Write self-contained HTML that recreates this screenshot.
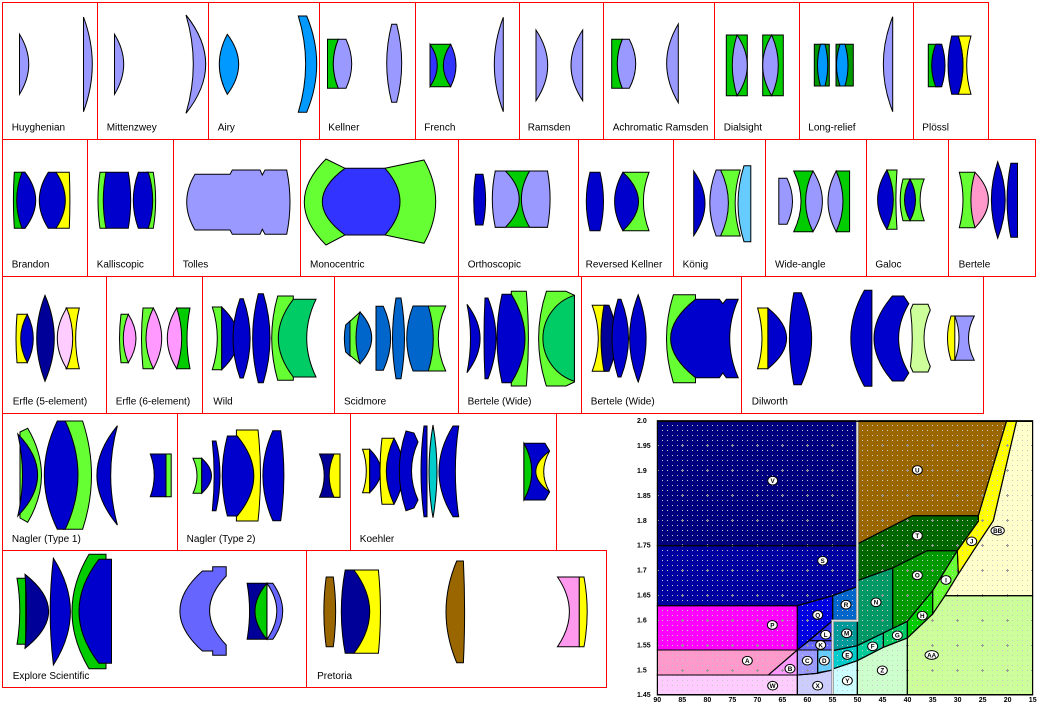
<!DOCTYPE html>
<html><head><meta charset="utf-8"><style>
html,body{margin:0;padding:0;background:#fff;width:1040px;height:712px;overflow:hidden}
svg{display:block}
.l path{stroke:#000;stroke-width:1;stroke-linejoin:miter}
.lab{font-family:"Liberation Sans",sans-serif;font-size:10px;fill:#000}
.tk{font-family:"Liberation Sans",sans-serif;font-size:7px;font-weight:bold;fill:#000}
.cl{font-family:"Liberation Sans",sans-serif;font-size:19px;font-weight:bold;fill:#000;text-anchor:middle}
</style></head><body>
<svg width="1040" height="712" viewBox="0 0 1040 712" xmlns="http://www.w3.org/2000/svg">
<rect width="1040" height="712" fill="#fff"/>
<defs>
<pattern id="dots" x="657" y="420" width="5" height="5" patternUnits="userSpaceOnUse"><rect width="1" height="1" fill="#c8c8c8"/></pattern>
<pattern id="plus" x="645" y="408" width="25" height="25" patternUnits="userSpaceOnUse"><rect x="11" y="12" width="3" height="1" fill="#999"/><rect x="12" y="11" width="1" height="3" fill="#999"/></pattern>
</defs>

<!-- cell grid -->
<g fill="none" stroke="#ff0000" stroke-width="1">
<rect x="2.5" y="2.5" width="986" height="137"/>
<path d="M97.5,2.5V139.5M208.5,2.5V139.5M319.5,2.5V139.5M415.5,2.5V139.5M519.5,2.5V139.5M603.5,2.5V139.5M714.5,2.5V139.5M799.5,2.5V139.5M913.5,2.5V139.5"/>
<rect x="2.5" y="139.5" width="1033" height="137"/>
<path d="M87.5,139.5V276.5M173.5,139.5V276.5M300.5,139.5V276.5M458.5,139.5V276.5M578.5,139.5V276.5M673.5,139.5V276.5M765.5,139.5V276.5M866.5,139.5V276.5M948.5,139.5V276.5"/>
<rect x="2.5" y="276.5" width="981" height="137"/>
<path d="M106.5,276.5V413.5M202.5,276.5V413.5M334.5,276.5V413.5M458.5,276.5V413.5M581.5,276.5V413.5M741.5,276.5V413.5"/>
<rect x="2.5" y="413.5" width="554" height="137"/>
<path d="M177.5,413.5V550.5M350.5,413.5V550.5"/>
<rect x="2.5" y="550.5" width="604" height="137"/>
<path d="M306.5,550.5V687.5"/>
</g>

<g class="l">
<!-- Row 1 -->
<path fill="#9999ff" d="M19.5,34.3 Q38,64.3 19.5,94.3Z"/>
<path fill="#9999ff" d="M83.5,17 Q101.1,64.3 83.5,111.7Z"/>
<path fill="#9999ff" d="M114.5,34.3 Q132.9,64.3 114.5,94.3Z"/>
<path fill="#9999ff" d="M186,15 Q225.4,64.2 186,113.3 Q200.6,64.2 186,15Z"/>
<path fill="#0099ff" d="M227.3,34.3 Q250,64.3 227.3,94.3 Q211.3,64.3 227.3,34.3Z"/>
<path fill="#0099ff" d="M298.3,16 L306.7,16 Q326.7,64 306.7,112.3 L298.3,112.3 Q313,64 298.3,16Z"/>
<path fill="#00cc00" d="M327.5,39.3 L338.3,39.3 Q328.3,63.8 338.3,88.3 L327.5,88.3Z"/>
<path fill="#9999ff" d="M338.3,39.3 L346,39.3 Q357.4,63.8 346,88.3 L338.3,88.3 Q328.3,63.8 338.3,39.3Z"/>
<path fill="#9999ff" d="M391.7,24.3 L396.7,24.3 Q406.7,63.3 396.7,102.3 L391.7,102.3 Q381.7,63.3 391.7,24.3Z"/>
<path fill="#00cc00" d="M430,44.3 L450.7,44.3 L450.7,86.7 L430,86.7Z"/>
<path fill="#3333ff" d="M430,44.3 Q444.6,65.5 430,86.7Z"/>
<path fill="#3333ff" d="M450.7,44.3 Q461.3,65.5 450.7,86.7 Q436,65.5 450.7,44.3Z"/>
<path fill="#9999ff" d="M503.3,17.3 L503.3,111.7 Q485.3,64.5 503.3,17.3Z"/>
<path fill="#9999ff" d="M536,30 Q559.4,65.3 536,100.7Z"/>
<path fill="#9999ff" d="M582.7,30 L582.7,100.7 Q559.3,65.3 582.7,30Z"/>
<path fill="#00cc00" d="M611.7,39.3 L622.3,39.3 Q612.3,63.8 622.3,88.3 L611.7,88.3Z"/>
<path fill="#9999ff" d="M622.3,39.3 L629.3,39.3 Q642.1,63.8 629.3,88.3 L622.3,88.3 Q612.3,63.8 622.3,39.3Z"/>
<path fill="#9999ff" d="M678.3,24 L678.3,102.7 Q655,63.3 678.3,24Z"/>
<path fill="#00cc00" d="M726.3,35 L747.3,35 L747.3,95.7 L726.3,95.7Z"/>
<path fill="#9999ff" d="M737,35 Q727.6,65.3 737,95.7 Q757.6,65.3 737,35Z"/>
<path fill="#00cc00" d="M762.7,35 L783.3,35 L783.3,95.7 L762.7,95.7Z"/>
<path fill="#9999ff" d="M771.7,35 Q753.7,65.3 771.7,95.7 Q784.9,65.3 771.7,35Z"/>
<path fill="#009900" d="M814.3,44.3 L829.3,44.3 L829.3,86 L814.3,86Z"/>
<path fill="#0099ff" d="M820.5,44.3 L825,44.3 Q830.5,65.2 825,86 L820.5,86 Q814.5,65.2 820.5,44.3Z"/>
<path fill="#009900" d="M836,44.3 L853.3,44.3 L853.3,86 L836,86Z"/>
<path fill="#0099ff" d="M840,44.3 L845,44.3 Q851,65.2 845,86 L840,86 Q833,65.2 840,44.3Z"/>
<path fill="#9999ff" d="M892.7,16.7 L892.7,111.7 Q874,64.2 892.7,16.7Z"/>
<path fill="#00cc00" d="M928.3,44.3 L940,44.3 L940,86.7 L928.3,86.7Z"/>
<path fill="#0000cc" d="M935.7,44.3 L941.7,44.3 Q948.3,65.5 941.7,86.7 L935.7,86.7 Q927.7,65.5 935.7,44.3Z"/>
<path fill="#ffff00" d="M958.3,36 L971,36 Q962.4,65.2 971,94.3 L958.3,94.3 Q967.7,65.2 958.3,36Z"/>
<path fill="#0000cc" d="M951.7,36 L958.3,36 Q967.7,65.2 958.3,94.3 L951.7,94.3 Q944.4,65.2 951.7,36Z"/>

<!-- Row 2 -->
<path fill="#00cc00" d="M14.3,172.3 L25,172.3 L25,228.3 L14.3,228.3 Q12.5,200.3 14.3,172.3Z"/>
<path fill="#0000cc" d="M22,172.3 L25,172.3 Q46.4,200.3 25,228.3 L22,228.3 Q11.4,200.3 22,172.3Z"/>
<path fill="#ffff00" d="M56,172.3 L69.3,172.3 Q70.5,200.3 69.3,228.3 L56,228.3Z"/>
<path fill="#0000cc" d="M48.3,172.3 L56,172.3 Q74.6,200.3 56,228.3 L48.3,228.3 Q30.3,200.3 48.3,172.3Z"/>
<path fill="#66ff33" d="M100,172.3 L106,172.3 L106,228.3 L100,228.3 Q96,200.3 100,172.3Z"/>
<path fill="#0000cc" d="M106,172.3 L128.3,172.3 Q133.1,200.3 128.3,228.3 L106,228.3 Q100.6,200.3 106,172.3Z"/>
<path fill="#66ff33" d="M146.7,172.3 L153.3,172.3 Q158,200.3 153.3,228.3 L146.7,228.3Z"/>
<path fill="#0000cc" d="M138.3,172.3 L148.3,172.3 Q157.1,200.3 148.3,228.3 L138.3,228.3 Q128.3,200.3 138.3,172.3Z"/>
<path fill="#9999ff" d="M195,174.3 L230,174.3 L232.3,170 L260,170 L262.3,175 L265,170 L286.7,170 Q293.3,202 286.7,234.3 L265,234.3 L262.3,229.3 L260,234.3 L232.3,234.3 L230,230 L195,230 Q178.4,202 195,174.3Z"/>
<path fill="#66ff33" d="M326,159 L345,168.3 L345,235 L326,245 Q282.6,202 326,159Z"/>
<path fill="#66ff33" d="M385,168.3 L424,160 Q447.4,201.7 424,243.3 L385,235Z"/>
<path fill="#3333ff" d="M345,168.3 L385,168.3 Q415,201.7 385,235 L345,235 Q299.6,201.7 345,168.3Z"/>
<path fill="#0000cc" d="M475.5,174.3 L483,174.3 Q488.2,199.7 483,225 L475.5,225 Q471.9,199.7 475.5,174.3Z"/>
<path fill="#00cc00" d="M495.3,171 L547.5,171 L547.5,227.3 L495.3,227.3Z"/>
<path fill="#9999ff" d="M495.3,171 L505.4,171 Q533,199 505.4,227.3 L495.3,227.3 Q489.3,199 495.3,171Z"/>
<path fill="#9999ff" d="M529.6,171 L547.5,171 Q552.7,199 547.5,227.3 L529.6,227.3 Q513.2,199 529.6,171Z"/>
<path fill="#0000cc" d="M590,172.3 L600,172.3 Q607,201.5 600,230.7 L590,230.7 Q582.6,201.5 590,172.3Z"/>
<path fill="#66ff33" d="M622.9,172.3 L649,172.3 Q637.8,201.5 649,230.7 L622.9,230.7Z"/>
<path fill="#0000cc" d="M622.9,172.3 Q654.1,201.5 622.9,230.7 Q606.3,201.5 622.9,172.3Z"/>
<path fill="#0000cc" d="M693.7,171 Q716.3,203.3 693.7,235.7Z"/>
<path fill="#66ff33" d="M720.6,170 L740.3,170 Q730,203 740.3,236 L720.6,236Z"/>
<path fill="#9999ff" d="M716.1,170 L720.6,170 Q736.2,203 720.6,236 L716.1,236 Q703.5,203 716.1,170Z"/>
<path fill="#66ccff" d="M744,165.7 L750.8,165.7 L750.8,241.7 L744,241.7 Q732,203.7 744,165.7Z"/>
<path fill="#9999ff" d="M778.8,178.3 L787,178.3 Q798,201.3 787,224.3 L778.8,224.3Z"/>
<path fill="#00cc00" d="M793.7,171 L813,171 L813,231.7 L793.7,231.7 Q808.3,201.3 793.7,171Z"/>
<path fill="#9999ff" d="M813,171 Q831.8,201.3 813,231.7 Q798.2,201.3 813,171Z"/>
<path fill="#00cc00" d="M836.2,171 L849.6,171 L849.6,231.7 L836.2,231.7Z"/>
<path fill="#9999ff" d="M836.2,171 Q849.8,201.3 836.2,231.7 Q819.8,201.3 836.2,171Z"/>
<path fill="#66ff33" d="M886.9,170 L897,170 Q894.8,199.7 897,229.3 L886.9,229.3Z"/>
<path fill="#0000cc" d="M886.9,170 Q899.7,199.7 886.9,229.3 Q868.3,199.7 886.9,170Z"/>
<path fill="#66ff33" d="M903,179 L924.2,179 Q916,199.8 924.2,220.7 L903,220.7 Q897.4,199.8 903,179Z"/>
<path fill="#0000cc" d="M910,179 Q921,199.8 910,220.7 Q899,199.8 910,179Z"/>
<path fill="#66ff33" d="M959.3,172.3 L975,172.3 L975,227.7 L959.3,227.7 Q966.7,200 959.3,172.3Z"/>
<path fill="#ff99cc" d="M975,172.3 Q1001.8,200 975,227.7 Q966.8,200 975,172.3Z"/>
<path fill="#0000cc" d="M997.7,161.7 Q1012.7,200 997.7,238.3 Q985.1,200 997.7,161.7Z"/>
<path fill="#0000cc" d="M1010.8,163.3 L1017.5,163.3 L1017.5,237.3 L1010.8,237.3 Q1003.3,200.3 1010.8,163.3Z"/>

<!-- Row 3 -->
<path fill="#ffff00" d="M17,314.3 L27.3,314.3 L27.3,362.7 L17,362.7 Q15,338.5 17,314.3Z"/>
<path fill="#0000cc" d="M27.3,314.3 Q39.3,338.5 27.3,362.7 Q14.1,338.5 27.3,314.3Z"/>
<path fill="#000099" d="M45,295.3 Q63.6,338.3 45,381.3 Q28.4,338.3 45,295.3Z"/>
<path fill="#ffff00" d="M66,308 L79.3,308 Q72,338.3 79.3,368.7 L66,368.7Z"/>
<path fill="#ffccff" d="M66.7,308 Q78.7,338.3 66.7,368.7 Q47.9,338.3 66.7,308Z"/>
<path fill="#66ff33" d="M121,314.3 L128.3,314.3 L128.3,362.7 L121,362.7 Q118,338.5 121,314.3Z"/>
<path fill="#ff99ff" d="M128.3,314.3 Q143.7,338.5 128.3,362.7 Q118.3,338.5 128.3,314.3Z"/>
<path fill="#66ff33" d="M143,308 L153.3,308 L153.3,368.7 L143,368.7 Q140,338.3 143,308Z"/>
<path fill="#ff99ff" d="M153.3,308 Q170.1,338.3 153.3,368.7 Q138.7,338.3 153.3,308Z"/>
<path fill="#00cc00" d="M176.7,308 L190,308 Q184,338.3 190,368.7 L176.7,368.7Z"/>
<path fill="#ff99ff" d="M176.7,308 Q186.7,338.3 176.7,368.7 Q157.9,338.3 176.7,308Z"/>
<path fill="#66ff33" d="M212.3,307 L221.7,307 L221.7,369.7 L212.3,369.7 Q222.3,338.3 212.3,307Z"/>
<path fill="#0000cc" d="M221.7,307 Q254.9,338.3 221.7,369.7Z"/>
<path fill="#0000cc" d="M240,298.7 L243.3,298.7 Q257,338.3 243.3,378 L240,378 Q226,338.3 240,298.7Z"/>
<path fill="#0000cc" d="M258.3,293.7 L263.3,293.7 Q276.7,338.2 263.3,382.7 L258.3,382.7 Q247,338.2 258.3,293.7Z"/>
<path fill="#66ff33" d="M277.7,296 L293.3,296 L293.3,380.3 L277.7,380.3 Q265.7,338.2 277.7,296Z"/>
<path fill="#00cc66" d="M293.3,299.3 L316,299.3 Q297.4,338.2 316,377 L293.3,377 Q263.3,338.2 293.3,299.3Z"/>
<path fill="#66ff33" d="M346,325 L360,312 L360,363.7 L346,352Z"/>
<path fill="#0066cc" d="M345.7,325 L350,321 L350,356 L345.7,352 Q343,338.5 345.7,325Z"/>
<path fill="#0066cc" d="M360,312 Q383.4,338 360,363.7 Q352,338 360,312Z"/>
<path fill="#0066cc" d="M376,306.3 L383.3,306.3 Q398,338.3 383.3,370.3 L376,370.3Z"/>
<path fill="#0066cc" d="M396,298 L401,298 Q408,338.3 401,378.7 L396,378.7 Q389,338.3 396,298Z"/>
<path fill="#66ff33" d="M428.3,306 L445.7,306 Q430.9,338.5 445.7,371 L428.3,371Z"/>
<path fill="#0066cc" d="M413,306 L428.3,306 Q438.3,338.5 428.3,371 L413,371 Q400.4,338.5 413,306Z"/>
<path fill="#0000cc" d="M467,304.3 Q493.2,338.5 467,372.7 Q474,338.5 467,304.3Z"/>
<path fill="#0000cc" d="M485,298 L488,298 Q504,338.3 488,378.7 L485,378.7 Q483,338.3 485,298Z"/>
<path fill="#66ff33" d="M511.3,291.3 L526.3,291.3 Q530.5,338.7 526.3,386 L511.3,386Z"/>
<path fill="#0000cc" d="M502,294.3 L511.3,294.3 Q538.7,338.5 511.3,382.7 L502,382.7 Q492,338.5 502,294.3Z"/>
<path fill="#66ff33" d="M546.4,291.3 L566,291.3 L574.4,295.3 L574.4,382 L566,386 L546.4,386 Q530.8,338.7 546.4,291.3Z"/>
<path fill="#00cc66" d="M574.4,295.3 A45.1,45.1 0 0 0 574.4,381.3Z"/>
<path fill="#ffff00" d="M592.2,305.3 L606.8,305.3 L606.8,371.3 L592.2,371.3 Q604.4,338.3 592.2,305.3Z"/>
<path fill="#000099" d="M604,305.3 L609,305.3 Q623,338.3 609,371.3 L604,371.3 Q598,338.3 604,305.3Z"/>
<path fill="#0000cc" d="M618,299.3 L621,299.3 Q636,338 621,377 L618,377 Q606,338 618,299.3Z"/>
<path fill="#0000cc" d="M638.2,294.7 Q654,338.3 638.2,382 Q621,338.3 638.2,294.7Z"/>
<path fill="#66ff33" d="M673.4,294.7 L695.5,294.7 L695.5,382.7 L673.4,382.7 Q659.6,338.7 673.4,294.7Z"/>
<path fill="#0000cc" d="M695.5,299.3 L719.4,299.3 L722.8,303.7 L726.3,299.3 L738.2,299.3 Q721.2,338.5 738.2,377.7 L726.3,377.7 L722.8,373 L719.4,377.7 L695.5,377.7 Q645.7,338.5 695.5,299.3Z"/>
<path fill="#ffff00" d="M757.6,308 L767.9,308 L767.9,368.7 L757.6,368.7 Q766.4,338.3 757.6,308Z"/>
<path fill="#0000cc" d="M767.9,308 Q805.3,338.3 767.9,368.7Z"/>
<path fill="#0000cc" d="M793.8,292.7 L801.3,292.7 Q822,338.7 801.3,384.7 L793.8,384.7 Q785,338.7 793.8,292.7Z"/>
<path fill="#0000cc" d="M864.4,290.3 L871.9,290.3 L871.9,386.3 L864.4,386.3 Q837.2,338.3 864.4,290.3Z"/>
<path fill="#0000cc" d="M892.4,296 L903.7,296 L908.8,303.7 Q888.4,338.5 908.8,373 L903.7,381 L892.4,381 Q855.6,338.5 892.4,296Z"/>
<path fill="#ccff99" d="M913,304.3 L928,304.3 L930.3,310 Q917.7,338.2 930.3,366.5 L928,372 L913,372 L910.5,366.5 Q914,338.2 910.5,310Z"/>
<path fill="#ffff00" d="M951,316 L954.8,316 L954.8,360.3 L951,360.3 Q944,338 951,316Z"/>
<path fill="#9999ff" d="M954.8,316 L974.3,316 Q962.7,338 974.3,360.3 L954.8,360.3 Q963.2,338 954.8,316Z"/>

<!-- Row 4 -->
<path fill="#66ff33" d="M20,432 L27.7,428.3 Q55.3,475.3 27.7,522.3 L20,518Z"/>
<path fill="#0000cc" d="M17.8,434 Q57.4,475 17.8,516 Q27.2,475 17.8,434Z"/>
<path fill="#66ff33" d="M63.3,421 L82.6,421 Q100.4,475.2 82.6,529.3 L63.3,529.3Z"/>
<path fill="#0000cc" d="M57.3,421 L65.2,421 Q90.8,475.2 65.2,529.3 L57.3,529.3 Q31.3,475.2 57.3,421Z"/>
<path fill="#0000cc" d="M117.4,425.7 Q76.4,475.3 117.4,525 Q104,475.3 117.4,425.7Z"/>
<path fill="#0000cc" d="M150.3,454 L166,454 L166,496.7 L150.3,496.7 Q158.1,475.3 150.3,454Z"/>
<path fill="#66ff33" d="M166,454 L171.2,454 L171.2,496.7 L166,496.7Z"/>
<path fill="#66ff33" d="M193,458.3 L201.7,458.3 L201.7,493.3 L193,493.3 Q201,475.8 193,458.3Z"/>
<path fill="#0000cc" d="M201.7,458.3 Q221.3,475.8 201.7,493.3Z"/>
<path fill="#0000cc" d="M212.3,441 L216,441 Q224,475.8 216,510.7 L212.3,510.7 Q216,475.8 212.3,441Z"/>
<path fill="#ffff00" d="M236.4,430 L258,430 L259,440 Q262,475.5 259,511 L258,521 L236.4,521Z"/>
<path fill="#0000cc" d="M227.4,436 L237.2,436 Q270.4,476 237.2,516 L227.4,516 Q217,476 227.4,436Z"/>
<path fill="#0000cc" d="M272.8,430.7 L280.7,430.7 Q287.1,475.7 280.7,520.7 L272.8,520.7 Q253,475.7 272.8,430.7Z"/>
<path fill="#000099" d="M319.5,454 L340,454 L340,497.3 L319.5,497.3 Q328.9,475.7 319.5,454Z"/>
<path fill="#ffff00" d="M334,454 L340,454 L340,497.3 L334,497.3 Q324.4,475.7 334,454Z"/>
<path fill="#ffff00" d="M362.6,449.3 L369.7,449.3 L369.7,492.7 L362.6,492.7 Q370,471 362.6,449.3Z"/>
<path fill="#0000cc" d="M369.7,449.3 Q391.9,471 369.7,492.7Z"/>
<path fill="#ffff00" d="M382,438.3 L394,438.3 L394,504.3 L382,504.3 Q378,471.3 382,438.3Z"/>
<path fill="#0000cc" d="M394,438.3 Q412.6,471.3 394,504.3 Q378.6,471.3 394,438.3Z"/>
<path fill="#0000cc" d="M406,431 L414,433 L418,442 Q405,470.7 418,500 L414,508 L406,510.7 Q392.6,470.7 406,431Z"/>
<path fill="#0000cc" d="M424,426 L427,426 L427,516.7 L424,516.7 Q418,471.3 424,426Z"/>
<path fill="#00cccc" d="M433,425 Q441,471.3 433,517.7 Q425,471.3 433,425Z"/>
<path fill="#0000cc" d="M453,426 L458.7,426 Q452,471.3 458.7,516.7 L453,516.7 Q425,471.3 453,426Z"/>
<path fill="#0000cc" d="M523.9,443.3 L545,443.3 L549.6,451 Q535,471.7 549.6,492 L545,500 L523.9,500Z"/>
<path fill="#00cc00" d="M523.9,443.3 Q539.7,471.7 523.9,500Z"/>
<path fill="#ffff00" d="M549.6,451 Q522,471.7 549.6,492 Q537.8,471.7 549.6,451Z"/>

<!-- Row 5 -->
<path fill="#00cc00" d="M17,578.3 L25.7,578.3 L25.7,644.3 L17,644.3 Q22.6,611.3 17,578.3Z"/>
<path fill="#000099" d="M25,574.3 Q72.2,611.3 25,648.3 Q28,611.3 25,574.3Z"/>
<path fill="#0000cc" d="M53.4,558.3 Q87.4,611.7 53.4,665 Q47,611.7 53.4,558.3Z"/>
<path fill="#00cc00" d="M89,554.3 L106,554.3 L106,668.7 L89,668.7 Q55,611.5 89,554.3Z"/>
<path fill="#0000cc" d="M98.9,559.3 L111.5,559.3 L111.5,663.3 L98.9,663.3 Q59.1,611.3 98.9,559.3Z"/>
<path fill="#6666ff" d="M202.4,571 L212.7,571 L212.7,566.7 L226.2,566.7 L226.2,576 Q193,610.5 226.2,645 L226.2,655.3 L212.7,655.3 L212.7,651 L202.4,651 Q157.4,611 202.4,571Z"/>
<path fill="#000099" d="M247.1,583.3 L266.9,583.3 L266.9,639.3 L247.1,639.3 Q252,611.3 247.1,583.3Z"/>
<path fill="#00cc00" d="M266.9,583.3 Q243.1,611.3 266.9,639.3Z"/>
<path fill="#6666ff" d="M266.9,583.3 L272.8,583.3 Q292.6,611.3 272.8,639.3 L266.9,639.3 Q286.7,611.3 266.9,583.3Z"/>
<path fill="#996600" d="M326.2,577 L333.3,577 Q338,611.8 333.3,646.7 L326.2,646.7 Q321.5,611.8 326.2,577Z"/>
<path fill="#ffff00" d="M353.9,570 L378.4,570 Q382.5,611.7 378.4,653.3 L353.9,653.3Z"/>
<path fill="#000099" d="M345.2,570 L353.9,570 Q385.5,611.7 353.9,653.3 L345.2,653.3 Q337.4,611.7 345.2,570Z"/>
<path fill="#996600" d="M456.7,561 L463.4,561 Q465.8,611.8 463.4,662.7 L456.7,662.7 Q435.3,611.8 456.7,561Z"/>
<path fill="#ff99ee" d="M557.5,577 L579.3,577 L579.3,646.7 L557.5,646.7 Q581.3,611.8 557.5,577Z"/>
<path fill="#ffff00" d="M579.3,577 L584,577 Q590.4,611.8 584,646.7 L579.3,646.7Z"/>
</g>

<!-- labels -->
<g class="lab">
<text x="11.7" y="130.5">Huyghenian</text>
<text x="106.7" y="130.5">Mittenzwey</text>
<text x="217.7" y="130.5">Airy</text>
<text x="328.3" y="130.5">Kellner</text>
<text x="424.3" y="130.5">French</text>
<text x="527.7" y="130.5">Ramsden</text>
<text x="612.7" y="130.5">Achromatic Ramsden</text>
<text x="723.7" y="130.5">Dialsight</text>
<text x="808.3" y="130.5">Long-relief</text>
<text x="922.3" y="130.5">Plössl</text>
<text x="11.7" y="267.5">Brandon</text>
<text x="96.7" y="267.5">Kalliscopic</text>
<text x="182.7" y="267.5">Tolles</text>
<text x="310" y="267.5">Monocentric</text>
<text x="467.7" y="267.5">Orthoscopic</text>
<text x="585.6" y="267.5">Reversed Kellner</text>
<text x="682.6" y="267.5">König</text>
<text x="775" y="267.5">Wide-angle</text>
<text x="875.4" y="267.5">Galoc</text>
<text x="958.6" y="267.5">Bertele</text>
<text x="12.7" y="404.5">Erfle (5-element)</text>
<text x="115.7" y="404.5">Erfle (6-element)</text>
<text x="213.3" y="404.5">Wild</text>
<text x="344" y="404.5">Scidmore</text>
<text x="467.6" y="404.5">Bertele (Wide)</text>
<text x="590.8" y="404.5">Bertele (Wide)</text>
<text x="751.8" y="404.5">Dilworth</text>
<text x="11.9" y="542">Nagler (Type 1)</text>
<text x="186.6" y="542">Nagler (Type 2)</text>
<text x="359.8" y="542">Koehler</text>
<text x="12.7" y="679">Explore Scientific</text>
<text x="317.1" y="679">Pretoria</text>
</g>

<!-- glass chart fills -->
<g transform="translate(630,414) scale(0.333333)" stroke="none">
<polygon fill="#00007f" points="82,20 682,20 682,395 82,395"/>
<polygon fill="#996600" points="682,20 1130,20 1045,305 848,305 682,390"/>
<polygon fill="#006600" points="682,390 848,305 1045,305 1045,322 982,410 892,410 788,462 682,500"/>
<polygon fill="#ffffcc" points="1160,20 1208,20 1208,545 945,545 985,480 1040,395 1090,320"/>
<polygon fill="#ffff00" points="1130,20 1160,20 1090,320 1040,395 985,480 982,410 1045,322 1045,305"/>
<polygon fill="#ccff99" points="832,672 908,600 945,545 1208,545 1208,843 832,843"/>
<polygon fill="#66ff33" points="982,410 985,480 945,545 908,600 908,530"/>
<polygon fill="#009900" points="788,462 892,410 982,410 908,530 832,622 788,643"/>
<polygon fill="#00cc00" points="832,622 908,530 908,600 832,672"/>
<polygon fill="#009966" points="682,500 788,462 788,643 760,657 682,695"/>
<polygon fill="#00cc99" points="682,695 760,657 760,700 682,740"/>
<polygon fill="#00cc66" points="760,657 832,622 832,672 760,700"/>
<polygon fill="#ccffcc" points="682,740 760,700 832,672 832,843 682,843"/>
<polygon fill="#009999" points="608,620 682,620 682,695 608,710"/>
<polygon fill="#00cccc" points="608,710 682,695 682,740 608,765"/>
<polygon fill="#ccffff" points="608,765 682,740 682,843 608,843"/>
<polygon fill="#0066cc" points="608,545 682,518 682,620 608,620"/>
<polygon fill="#0000a0" points="82,395 682,395 682,518 608,545 502,575 82,575"/>
<polygon fill="#0000e0" points="502,575 608,545 608,620 502,708"/>
<polygon fill="#3333ff" points="538,680 608,620 608,680"/>
<polygon fill="#6666ff" points="502,708 538,680 608,680 608,708"/>
<polygon fill="#9999ff" points="502,708 563,708 563,778 502,783"/>
<polygon fill="#66ccff" points="563,708 608,708 608,768 563,776"/>
<polygon fill="#ccccff" points="502,783 563,778 608,768 608,843 502,843"/>
<polygon fill="#ff00ff" points="82,575 502,575 502,708 82,708"/>
<polygon fill="#ff99cc" points="82,708 502,708 415,783 82,783"/>
<polygon fill="#ff99ff" points="415,783 502,708 502,783"/>
<polygon fill="#ffccff" points="82,783 502,783 502,843 82,843"/>
</g>
<rect x="657" y="421" width="376" height="274" fill="url(#dots)"/>
<rect x="657" y="421" width="376" height="274" fill="url(#plus)"/>
<!-- glass chart outlines (on top of dots) -->
<g transform="translate(630,414) scale(0.333333)" fill="none" stroke="#000" stroke-width="3.3" stroke-linejoin="miter">
<polygon points="82,20 682,20 682,395 82,395"/>
<polygon points="682,20 1130,20 1045,305 848,305 682,390"/>
<polygon points="682,390 848,305 1045,305 1045,322 982,410 892,410 788,462 682,500"/>
<polygon points="1160,20 1208,20 1208,545 945,545 985,480 1040,395 1090,320"/>
<polygon points="1130,20 1160,20 1090,320 1040,395 985,480 982,410 1045,322 1045,305"/>
<polygon points="832,672 908,600 945,545 1208,545 1208,843 832,843"/>
<polygon points="982,410 985,480 945,545 908,600 908,530"/>
<polygon points="788,462 892,410 982,410 908,530 832,622 788,643"/>
<polygon points="832,622 908,530 908,600 832,672"/>
<polygon points="682,500 788,462 788,643 760,657 682,695"/>
<polygon points="682,695 760,657 760,700 682,740"/>
<polygon points="760,657 832,622 832,672 760,700"/>
<polygon points="682,740 760,700 832,672 832,843 682,843"/>
<polygon points="608,620 682,620 682,695 608,710"/>
<polygon points="608,710 682,695 682,740 608,765"/>
<polygon points="608,765 682,740 682,843 608,843"/>
<polygon points="608,545 682,518 682,620 608,620"/>
<polygon points="82,395 682,395 682,518 608,545 502,575 82,575"/>
<polygon points="502,575 608,545 608,620 502,708"/>
<polygon points="538,680 608,620 608,680"/>
<polygon points="502,708 538,680 608,680 608,708"/>
<polygon points="502,708 563,708 563,778 502,783"/>
<polygon points="563,708 608,708 608,768 563,776"/>
<polygon points="502,783 563,778 608,768 608,843 502,843"/>
<polygon points="82,575 502,575 502,708 82,708"/>
<polygon points="82,708 502,708 415,783 82,783"/>
<polygon points="415,783 502,708 502,783"/>
<polygon points="82,783 502,783 502,843 82,843"/>
</g>
<g transform="translate(630,414) scale(0.333333)">
<polyline points="682,20 682,620 608,620 608,843" fill="none" stroke="#888" stroke-width="8"/>
<polyline points="682,20 682,620 608,620 608,843" fill="none" stroke="#e0e0e0" stroke-width="4"/>
<g fill="#fff" stroke="#000" stroke-width="3">
<ellipse cx="428" cy="200" rx="15" ry="13"/><ellipse cx="862" cy="168" rx="15" ry="13"/>
<ellipse cx="578" cy="440" rx="15" ry="13"/><ellipse cx="862" cy="365" rx="15" ry="13"/>
<ellipse cx="862" cy="484" rx="15" ry="13"/><ellipse cx="948" cy="498" rx="15" ry="13"/>
<ellipse cx="1025" cy="382" rx="15" ry="13"/><ellipse cx="1103" cy="350" rx="20" ry="13"/>
<ellipse cx="738" cy="565" rx="15" ry="13"/><ellipse cx="648" cy="572" rx="15" ry="13"/>
<ellipse cx="563" cy="603" rx="15" ry="13"/><ellipse cx="427" cy="633" rx="15" ry="13"/>
<ellipse cx="877" cy="605" rx="15" ry="13"/><ellipse cx="802" cy="664" rx="15" ry="13"/>
<ellipse cx="587" cy="662" rx="15" ry="13"/><ellipse cx="650" cy="658" rx="15" ry="13"/>
<ellipse cx="572" cy="693" rx="15" ry="13"/><ellipse cx="728" cy="697" rx="15" ry="13"/>
<ellipse cx="652" cy="723" rx="15" ry="13"/><ellipse cx="352" cy="740" rx="15" ry="13"/>
<ellipse cx="532" cy="740" rx="15" ry="13"/><ellipse cx="583" cy="740" rx="15" ry="13"/>
<ellipse cx="480" cy="764" rx="15" ry="13"/><ellipse cx="757" cy="769" rx="15" ry="13"/>
<ellipse cx="905" cy="723" rx="20" ry="13"/><ellipse cx="428" cy="815" rx="15" ry="13"/>
<ellipse cx="563" cy="815" rx="15" ry="13"/><ellipse cx="652" cy="800" rx="15" ry="13"/>
</g>
<g class="cl">
<text x="428" y="207">V</text><text x="862" y="175">U</text>
<text x="578" y="447">S</text><text x="862" y="372">T</text>
<text x="862" y="491">O</text><text x="948" y="505">I</text>
<text x="1025" y="389">J</text><text x="1103" y="357">BB</text>
<text x="738" y="572">N</text><text x="648" y="579">R</text>
<text x="563" y="610">Q</text><text x="427" y="640">P</text>
<text x="877" y="612">H</text><text x="802" y="671">G</text>
<text x="587" y="669">L</text><text x="650" y="665">M</text>
<text x="572" y="700">K</text><text x="728" y="704">F</text>
<text x="652" y="730">E</text><text x="352" y="747">A</text>
<text x="532" y="747">C</text><text x="583" y="747">D</text>
<text x="480" y="771">B</text><text x="757" y="776">Z</text>
<text x="905" y="730">AA</text><text x="428" y="822">W</text>
<text x="563" y="822">X</text><text x="652" y="807">Y</text>
</g>
</g>
<rect x="657.5" y="421.5" width="375" height="273" fill="none" stroke="#000" stroke-width="1"/>

<g class="tk">
<text x="637" y="423.2">2.0</text>
<text x="637" y="448.1">1.95</text>
<text x="637" y="473">1.9</text>
<text x="637" y="497.9">1.85</text>
<text x="637" y="522.8">1.8</text>
<text x="637" y="547.7">1.75</text>
<text x="637" y="572.7">1.7</text>
<text x="637" y="597.6">1.65</text>
<text x="637" y="622.5">1.6</text>
<text x="637" y="647.4">1.55</text>
<text x="637" y="672.3">1.5</text>
<text x="637" y="697.2">1.45</text>
</g>
<g class="tk" text-anchor="middle">
<text x="657.3" y="702">90</text>
<text x="682.3" y="702">85</text>
<text x="707.4" y="702">80</text>
<text x="732.4" y="702">75</text>
<text x="757.4" y="702">70</text>
<text x="782.4" y="702">65</text>
<text x="807.4" y="702">60</text>
<text x="832.5" y="702">55</text>
<text x="857.5" y="702">50</text>
<text x="882.5" y="702">45</text>
<text x="907.5" y="702">40</text>
<text x="932.6" y="702">35</text>
<text x="957.6" y="702">30</text>
<text x="982.6" y="702">25</text>
<text x="1007.6" y="702">20</text>
<text x="1032.7" y="702">15</text>
</g>
</svg>
</body></html>
